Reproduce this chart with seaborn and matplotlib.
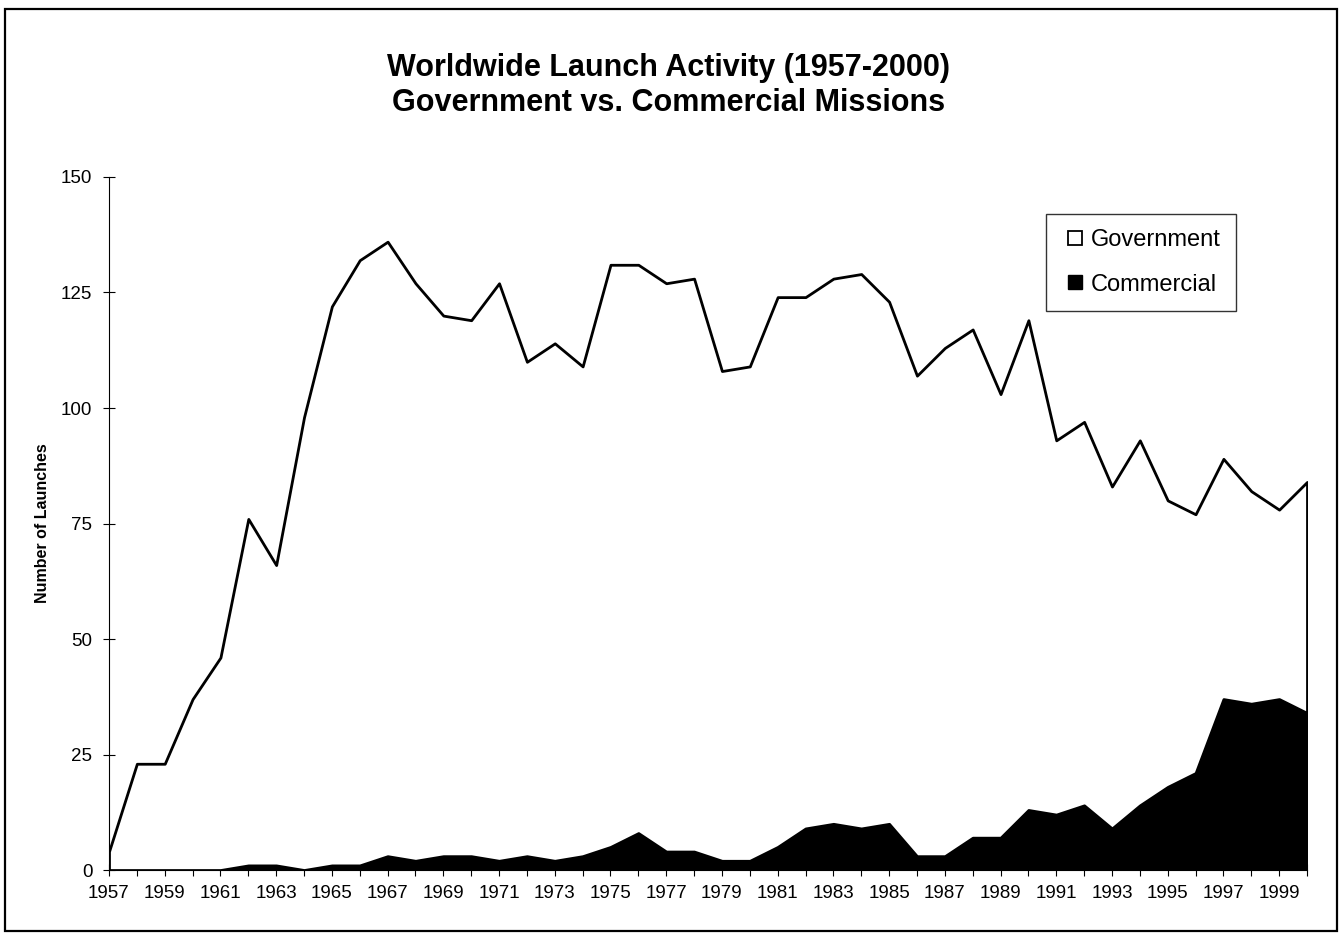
import seaborn as sns
import matplotlib.pyplot as plt
from matplotlib.lines import Line2D
from matplotlib.patches import Rectangle

years = list(range(1957, 2001))
# launches per year
government = [4, 23, 23, 37, 46, 75, 65, 98, 121, 131, 133, 125, 117, 116, 125,
              107, 112, 106, 126, 123, 123, 124, 106, 107, 119, 115, 118, 120,
              113, 104, 110, 110, 96, 106, 81, 83, 74, 79, 62, 56, 52, 46, 41, 50]
commercial = [0, 0, 0, 0, 0, 1, 1, 0, 1, 1, 3, 2, 3, 3, 2, 3, 2, 3, 5, 8, 4, 4,
              2, 2, 5, 9, 10, 9, 10, 3, 3, 7, 7, 13, 12, 14, 9, 14, 18, 21, 37,
              36, 37, 34]
series_names = ['Government', 'Commercial']
yticks = [0, 25, 50, 75, 100, 125, 150]

sns.set_style('white')
plt.rcParams['font.family'] = ['Liberation Sans', 'DejaVu Sans']
plt.rcParams['text.color'] = 'black'
plt.rcParams['axes.labelcolor'] = 'black'

fig = plt.figure(figsize=(13.39, 9.34), dpi=100)
ax = fig.add_axes([0.0814, 0.0685, 0.8947, 0.742])

ax.stackplot(years, commercial, government, colors=['black', 'white'],
             edgecolor='black', linewidth=2.0)

ax.set_xlim(1957, 2000)
ax.set_ylim(0, 150)
ax.set_yticks(yticks)
ax.set_xticks(years)
ax.set_xticklabels([str(y) if (y - 1957) % 2 == 0 else '' for y in years])
ax.tick_params(axis='both', direction='inout', length=8, width=0.8,
               labelsize=13.5, colors='black', bottom=True, left=True)
ax.tick_params(axis='x', pad=7)
ax.tick_params(axis='y', pad=8)
for s in ['top', 'right']:
    ax.spines[s].set_visible(False)
for s in ['left', 'bottom']:
    ax.spines[s].set_color('black')
    ax.spines[s].set_linewidth(0.8)

ax.set_ylabel('Number of Launches', fontsize=11.5, fontweight='bold', labelpad=8)

fig.text(0.4996, 0.927, 'Worldwide Launch Activity (1957-2000)', ha='center',
         va='center', fontsize=22, fontweight='bold')
fig.text(0.4996, 0.890, 'Government vs. Commercial Missions', ha='center',
         va='center', fontsize=22, fontweight='bold')

handles = [Line2D([], [], marker='s', linestyle='none', markersize=10,
                  markerfacecolor='white', markeredgecolor='black', markeredgewidth=1.3),
           Line2D([], [], marker='s', linestyle='none', markersize=10,
                  markerfacecolor='black', markeredgecolor='black')]
leg = fig.legend(handles, series_names, loc='upper left',
                 bbox_to_anchor=(0.781, 0.771), fontsize=17, frameon=True,
                 fancybox=False, edgecolor='black', handlelength=1.2,
                 handletextpad=0.05, labelspacing=0.95, borderpad=0.65,
                 borderaxespad=0)
leg.get_frame().set_linewidth(1.0)

fig.patches.append(Rectangle((0.0037, 0.0032), 0.9948, 0.9872, fill=False,
                             edgecolor='black', linewidth=1.6,
                             transform=fig.transFigure, figure=fig))

fig.savefig('out.png', dpi=100)
